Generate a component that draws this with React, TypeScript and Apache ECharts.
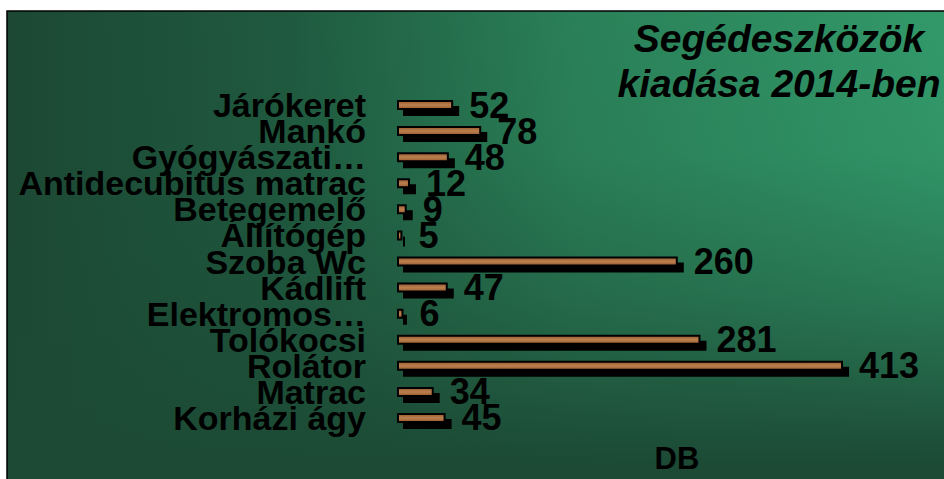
import React, { useEffect, useRef } from "react";
import * as echarts from "echarts";

const categories = [
  "Járókeret",
  "Mankó",
  "Gyógyászati…",
  "Antidecubitus matrac",
  "Betegemelő",
  "Állítógép",
  "Szoba Wc",
  "Kádlift",
  "Elektromos…",
  "Tolókocsi",
  "Rolátor",
  "Matrac",
  "Korházi ágy",
];
const values = [52, 78, 48, 12, 9, 5, 260, 47, 6, 281, 413, 34, 45];
const titleLines = ["Segédeszközök", "kiadása 2014-ben"];
const axisName = "DB";

export default function App() {
  const ref = useRef<HTMLDivElement>(null);
  useEffect(() => {
    if (!ref.current) return;
    const chart = echarts.init(ref.current, undefined, { renderer: "svg" });
    chart.setOption({
      animation: false,
      graphic: [
        {
          type: "rect",
          z: -10,
          silent: true,
          shape: { x: 7, y: 11, width: 945, height: 475 },
          style: {
            fill: {
              type: "linear",
              x: 0,
              y: 0,
              x2: 1,
              y2: 0,
              colorStops: [
                { offset: 0, color: "#1c4834" },
                { offset: 0.3, color: "#1f5a3f" },
                { offset: 0.6, color: "#2a8058" },
                { offset: 1, color: "#32996a" },
              ],
            },
            stroke: "#000",
            lineWidth: 1.5,
          },
        },
        {
          type: "rect",
          z: -9,
          silent: true,
          shape: { x: 8, y: 12, width: 945, height: 475 },
          style: {
            fill: {
              type: "linear",
              x: 0,
              y: 0,
              x2: 0,
              y2: 1,
              colorStops: [
                { offset: 0, color: "rgba(28,74,53,0)" },
                { offset: 0.3, color: "rgba(28,74,53,0.05)" },
                { offset: 0.6, color: "rgba(28,74,53,0.4)" },
                { offset: 0.95, color: "rgba(28,74,53,1)" },
                { offset: 1, color: "rgba(28,74,53,1)" },
              ],
            },
          },
        },
        {
          type: "text",
          z: 10,
          x: 779,
          y: 16,
          style: {
            text: titleLines.join("\n"),
            textAlign: "center",
            textVerticalAlign: "top",
            font: 'italic bold 39px "Liberation Sans"',
            lineHeight: 45,
            fill: "#000",
          },
        },
      ],
      grid: { left: 397, top: 92, width: 540, height: 343 },
      xAxis: {
        type: "value",
        min: 0,
        max: 500,
        axisLine: { show: false },
        axisTick: { show: false },
        axisLabel: { show: false },
        splitLine: { show: false },
        name: axisName,
        nameLocation: "middle",
        nameGap: 12,
        nameTextStyle: {
          fontFamily: "Liberation Sans",
          fontWeight: "bold",
          fontSize: 31,
          color: "#000",
          verticalAlign: "top",
          padding: [0, 0, 0, 20],
        },
      },
      yAxis: {
        type: "category",
        inverse: true,
        data: categories,
        axisLine: { show: false },
        axisTick: { show: false },
        axisLabel: {
          interval: 0,
          margin: 31,
          fontFamily: "Liberation Sans",
          fontWeight: "bold",
          fontSize: 34,
          color: "#000",
        },
      },
      series: [
        {
          type: "bar",
          data: values,
          barWidth: 10,
          itemStyle: {
            color: {
              type: "linear",
              x: 0,
              y: 0,
              x2: 0,
              y2: 1,
              colorStops: [
                { offset: 0, color: "#9a5a2b" },
                { offset: 0.5, color: "#bb8050" },
                { offset: 1, color: "#9a5a2b" },
              ],
            },
            borderColor: "#000",
            borderWidth: 2,
            shadowColor: "#000",
            shadowBlur: 0,
            shadowOffsetX: 6,
            shadowOffsetY: 6,
          },
          label: {
            show: true,
            position: "right",
            distance: 16,
            fontFamily: "Liberation Sans",
            fontWeight: "bold",
            fontSize: 36,
            color: "#000",
          },
        },
      ],
    });
    return () => chart.dispose();
  }, []);
  return (
    <div
      ref={ref}
      style={{ position: "absolute", left: 0, top: 0, width: 944, height: 479 }}
    />
  );
}
